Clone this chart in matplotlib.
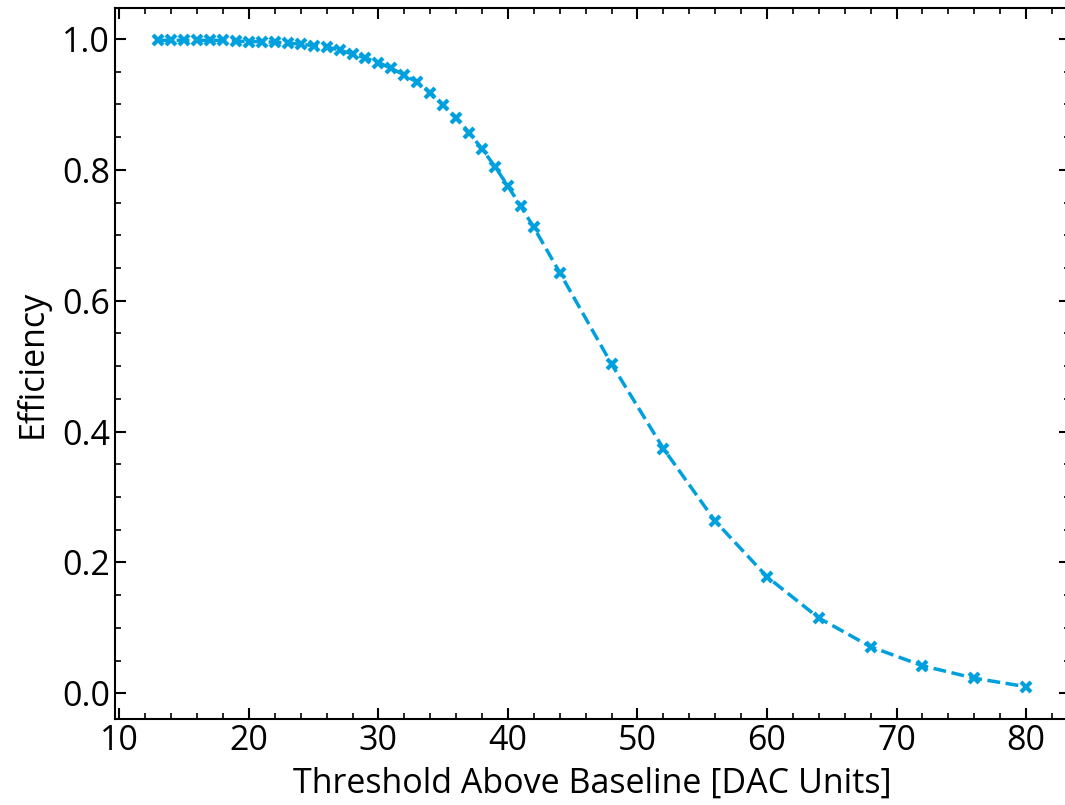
import matplotlib
matplotlib.use("Agg")
import matplotlib.pyplot as plt
from matplotlib.ticker import MultipleLocator

plt.rcParams['font.family'] = ['Open Sans', 'DejaVu Sans']

threshold = [13, 14, 15, 16, 17, 18, 19, 20, 21, 22, 23, 24, 25, 26, 27, 28, 29, 30,
             31, 32, 33, 34, 35, 36, 37, 38, 39, 40, 41, 42, 44, 48, 52, 56, 60, 64,
             68, 72, 76, 80]
efficiency = [0.998, 0.998, 0.998, 0.998, 0.998, 0.998, 0.997, 0.996, 0.996, 0.995,
              0.994, 0.992, 0.990, 0.988, 0.983, 0.977, 0.971, 0.964, 0.955, 0.945,
              0.934, 0.918, 0.899, 0.880, 0.857, 0.832, 0.805, 0.775, 0.744, 0.712,
              0.643, 0.503, 0.374, 0.263, 0.178, 0.115, 0.071, 0.042, 0.023, 0.010]

fig = plt.figure(figsize=(10.65, 8.05), dpi=100)
ax = fig.add_axes([114.8 / 1065, 86 / 805, (1069.5 - 114.8) / 1065, (797 - 86) / 805])

ax.plot(threshold, efficiency, linestyle='--', linewidth=2.5, color='#00a0df',
        marker='x', markersize=7, markeredgewidth=3)

ax.set_xlabel('Threshold Above Baseline [DAC Units]', fontsize=24.5, labelpad=6)
ax.set_ylabel('Efficiency', fontsize=24.5, labelpad=9)

ax.xaxis.set_major_locator(MultipleLocator(10))
ax.xaxis.set_minor_locator(MultipleLocator(2))
ax.yaxis.set_major_locator(MultipleLocator(0.2))
ax.yaxis.set_minor_locator(MultipleLocator(0.05))
ax.tick_params(which='both', direction='in', top=True, right=True, labelsize=24.5)
ax.tick_params(which='major', length=8, width=1.5)
ax.tick_params(which='minor', length=4.5, width=1.2)
for s in ax.spines.values():
    s.set_linewidth(1.5)

fig.savefig('out.png', dpi=100)
